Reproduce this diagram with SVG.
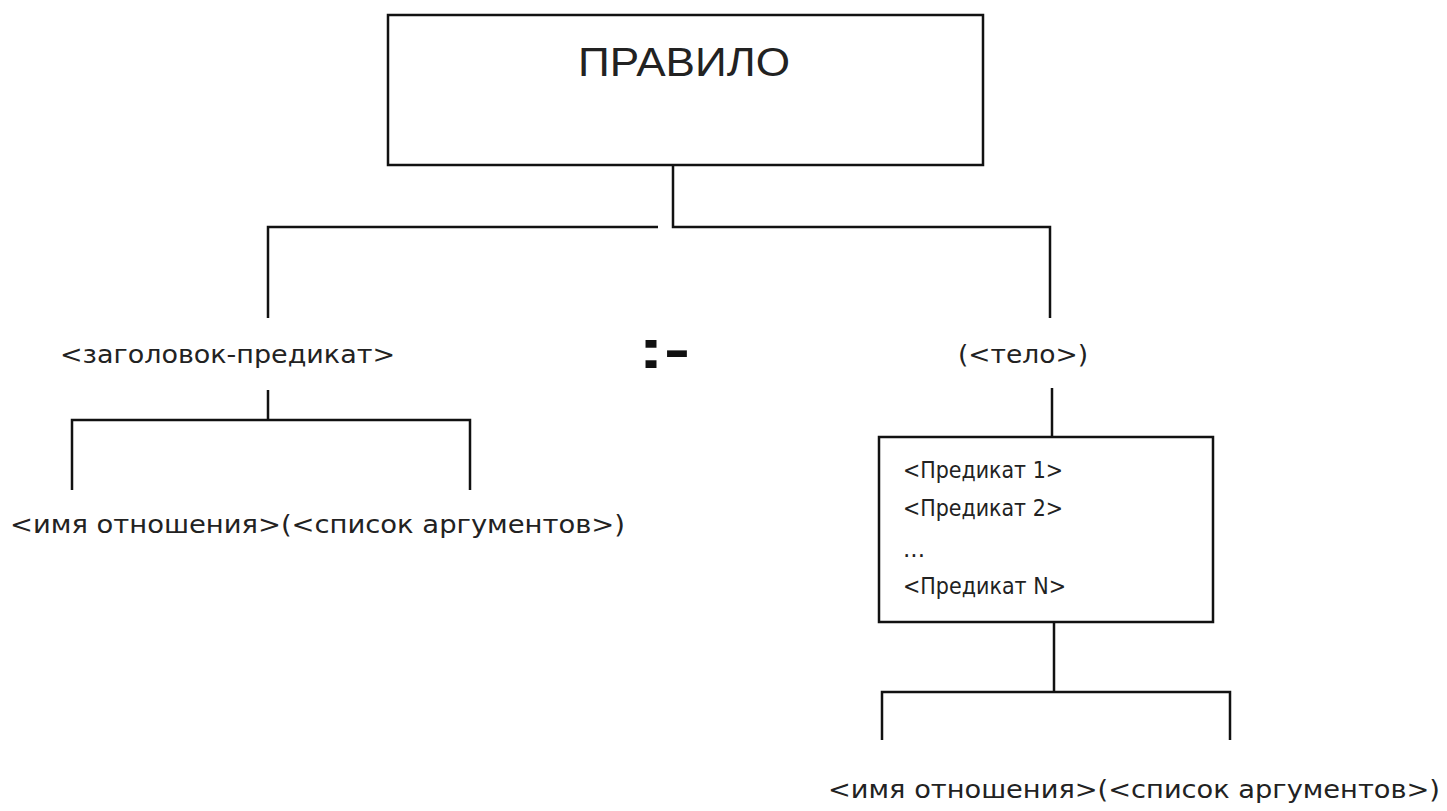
<svg xmlns="http://www.w3.org/2000/svg" width="1447" height="811" viewBox="0 0 1447 811">
<style>
.box{fill:#fff;stroke:#111;stroke-width:2.5}
.ln{fill:none;stroke:#111;stroke-width:2.5}
.t{font-family:"DejaVu Sans Condensed","DejaVu Sans","Noto Sans",sans-serif;font-size:24px;fill:#222}
.p{font-size:23px}
.title{font-family:"Liberation Sans",Arial,sans-serif;font-size:40px;fill:#222}
.op{font-family:"Liberation Sans",Arial,sans-serif;font-size:56px;font-weight:bold;fill:#111}
</style>
<rect width="1447" height="811" fill="#fff"/>
<g id="connectors">
<path class="ln" d="M673 165V227H1050V318M658 227H268V318"/>
<path class="ln" d="M268 390V420M72 490V420H470V490"/>
<path class="ln" d="M1052 388V437"/>
<path class="ln" d="M1054 622V692M882 740V692H1230V740"/>
</g>
<g id="rule">
<rect class="box" x="388" y="15" width="595" height="150"/>
<text class="title" x="578" y="76" textLength="212" lengthAdjust="spacingAndGlyphs">ПРАВИЛО</text>
</g>
<g id="head">
<text class="t" x="60" y="363" textLength="335" lengthAdjust="spacingAndGlyphs">&lt;заголовок-предикат&gt;</text>
</g>
<g id="neck">
<text class="op" x="638" y="368" textLength="52" lengthAdjust="spacingAndGlyphs">:-</text>
</g>
<g id="body">
<text class="t" x="958" y="363" textLength="130" lengthAdjust="spacingAndGlyphs">(&lt;тело&gt;)</text>
</g>
<g id="head-parts">
<text class="t" x="10" y="533" textLength="615" lengthAdjust="spacingAndGlyphs">&lt;имя отношения&gt;(&lt;список аргументов&gt;)</text>
</g>
<g id="predicates">
<rect class="box" x="879" y="437" width="334" height="185"/>
<text class="t p" x="903" y="478" textLength="160" lengthAdjust="spacingAndGlyphs">&lt;Предикат 1&gt;</text>
<text class="t p" x="903" y="516" textLength="160" lengthAdjust="spacingAndGlyphs">&lt;Предикат 2&gt;</text>
<text class="t p" x="903" y="557" textLength="22" lengthAdjust="spacingAndGlyphs">...</text>
<text class="t p" x="903" y="594" textLength="163" lengthAdjust="spacingAndGlyphs">&lt;Предикат N&gt;</text>
</g>
<g id="body-parts">
<text class="t" x="828" y="798" textLength="612" lengthAdjust="spacingAndGlyphs">&lt;имя отношения&gt;(&lt;список аргументов&gt;)</text>
</g>
</svg>
